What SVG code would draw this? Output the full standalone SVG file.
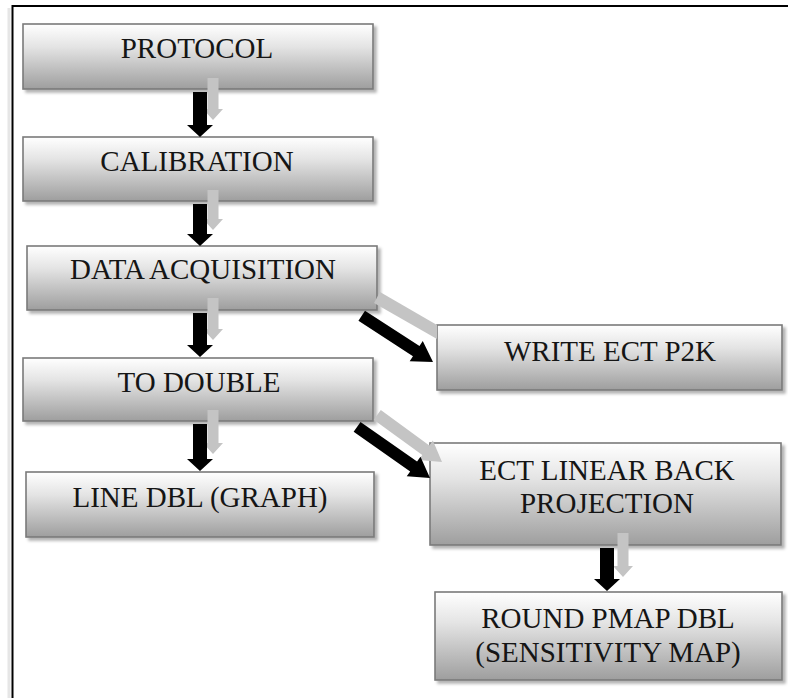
<svg xmlns="http://www.w3.org/2000/svg" width="788" height="698" viewBox="0 0 788 698">
<defs>
<linearGradient id="g" x1="0" y1="0" x2="0" y2="1">
<stop offset="0" stop-color="#ffffff"/>
<stop offset="0.35" stop-color="#e4e4e4"/>
<stop offset="1" stop-color="#9e9e9e"/>
</linearGradient>
<filter id="sh" x="-5%" y="-10%" width="115%" height="130%">
<feDropShadow dx="3" dy="3" stdDeviation="1.5" flood-color="#000" flood-opacity="0.3"/>
</filter>
</defs>
<style>
.box{fill:url(#g);stroke:#7a7a7a;stroke-width:1.6;filter:url(#sh)}
.t{font-family:"Liberation Serif","Times New Roman",serif;font-size:29px;fill:#151515;text-anchor:middle}
.blk{fill:#000}
.gry{fill:#c4c4c4}
.frame{stroke:#000;stroke-width:2;fill:none}
</style>
<rect width="788" height="698" fill="#fff"/>
<path class="frame" d="M12.5,698 V6 H788"/>
<line x1="9" y1="8" x2="9" y2="698" stroke="#e6e6e6" stroke-width="3"/>

<g id="protocol"><rect class="box" x="23" y="24" width="350" height="65"/><text class="t" x="197" y="58">PROTOCOL</text></g>
<g id="calibration"><rect class="box" x="23" y="137" width="350" height="64"/><text class="t" x="197" y="171">CALIBRATION</text></g>
<g id="data-acquisition"><rect class="box" x="27" y="246" width="350" height="64"/><text class="t" x="203" y="279">DATA ACQUISITION</text></g>
<g id="to-double"><rect class="box" x="23" y="358" width="350" height="63"/><text class="t" x="199" y="392">TO DOUBLE</text></g>
<g id="line-dbl"><rect class="box" x="26" y="472" width="348" height="65"/><text class="t" x="200" y="507">LINE DBL (GRAPH)</text></g>
<g id="write-ect"><rect class="box" x="437" y="325" width="345" height="65"/><text class="t" x="610" y="361">WRITE ECT P2K</text></g>
<g id="ect-linear"><rect class="box" x="430" y="443" width="351" height="102"/><text class="t" x="607" y="480">ECT LINEAR BACK</text><text class="t" x="607" y="513">PROJECTION</text></g>
<g id="round-pmap"><rect class="box" x="435" y="592" width="347" height="88"/><text class="t" x="608" y="628">ROUND PMAP DBL</text><text class="t" x="608" y="662">(SENSITIVITY MAP)</text></g>

<g id="connectors">
<polygon class="gry" transform="translate(213,120) rotate(90)" points="0,0 -11,-10 -11,-5.5 -42,-5.5 -42,5.5 -11,5.5 -11,10"/>
<polygon class="blk" transform="translate(200,137) rotate(90)" points="0,0 -12,-13 -12,-7 -45,-7 -45,7 -12,7 -12,13"/>
<polygon class="gry" transform="translate(213,230) rotate(90)" points="0,0 -11,-10 -11,-5.5 -40,-5.5 -40,5.5 -11,5.5 -11,10"/>
<polygon class="blk" transform="translate(200,246) rotate(90)" points="0,0 -12,-13 -12,-7 -42,-7 -42,7 -12,7 -12,13"/>
<polygon class="gry" transform="translate(213,340) rotate(90)" points="0,0 -11,-10 -11,-5.5 -42,-5.5 -42,5.5 -11,5.5 -11,10"/>
<polygon class="blk" transform="translate(200,357) rotate(90)" points="0,0 -12,-13 -12,-7 -44,-7 -44,7 -12,7 -12,13"/>
<polygon class="gry" transform="translate(213,454) rotate(90)" points="0,0 -11,-10 -11,-5.5 -44,-5.5 -44,5.5 -11,5.5 -11,10"/>
<polygon class="blk" transform="translate(200,471) rotate(90)" points="0,0 -12,-13 -12,-7 -47,-7 -47,7 -12,7 -12,13"/>
<polygon class="gry" transform="translate(623,577) rotate(90)" points="0,0 -11,-10 -11,-5.5 -44,-5.5 -44,5.5 -11,5.5 -11,10"/>
<polygon class="blk" transform="translate(607,591) rotate(90)" points="0,0 -12,-13 -12,-7 -43,-7 -43,7 -12,7 -12,13"/>
<polygon class="gry" points="380,292 437,325 437,339 374,303"/>
<polygon class="blk" transform="translate(433,362) rotate(33)" points="0,0 -20,-12 -20,-6 -85,-6 -85,6 -20,6 -20,12"/>
<polygon class="gry" transform="translate(442,462) rotate(36)" points="0,0 -20,-12 -20,-6 -80,-6 -80,6 -20,6 -20,12"/>
<polygon class="blk" transform="translate(430,478) rotate(35)" points="0,0 -20,-12 -20,-6 -89,-6 -89,6 -20,6 -20,12"/>
</g>
</svg>
